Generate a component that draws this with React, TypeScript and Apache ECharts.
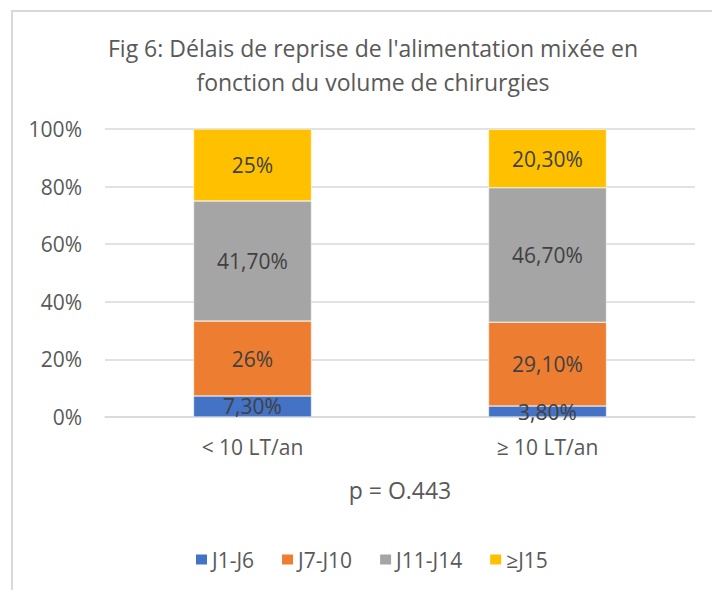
import React, { useEffect, useRef } from "react";
import * as echarts from "echarts";

const categories = ["< 10 LT/an", "≥ 10 LT/an"];
const seriesNames = ["J1-J6", "J7-J10", "J11-J14", "≥J15"];
const j1j6 = [7.3, 3.8];
const j7j10 = [26, 29.1];
const j11j14 = [41.7, 46.7];
const j15 = [25, 20.3];
const yTicks = [0, 20, 40, 60, 80, 100];
const colors = ["#4472C4", "#ED7D31", "#A5A5A5", "#FFC000"];
const titleText = "Fig 6: Délais de reprise de l'alimentation mixée en\nfonction du volume de chirurgies";
const pValueText = "p = O.443";

const FONT = "'Open Sans', 'Noto Sans', sans-serif";

function fmt(v: number): string {
  if (Number.isInteger(v)) return v + "%";
  return v.toFixed(2).replace(".", ",") + "%";
}

export default function App() {
  const ref = useRef<HTMLDivElement>(null);
  useEffect(() => {
    if (!ref.current) return;
    const chart = echarts.init(ref.current, undefined, { renderer: "svg" });
    const values = [j1j6, j7j10, j11j14, j15];
    chart.setOption({
      animation: false,
      backgroundColor: "#ffffff",
      textStyle: { fontFamily: FONT },
      title: {
        text: titleText,
        left: 368,
        textAlign: "center",
        top: 26,
        textStyle: {
          fontFamily: FONT,
          fontSize: 23,
          fontWeight: "normal",
          color: "#595959",
          lineHeight: 34,
        },
      },
      legend: {
        data: seriesNames,
        left: 189,
        top: 544,
        icon: "rect",
        itemWidth: 13,
        itemHeight: 12,
        itemGap: 26,
        textStyle: { fontFamily: FONT, fontSize: 21, color: "#595959", padding: [0, 0, 0, -1] },
      },
      grid: { left: 105, right: 17, top: 129, bottom: 173, containLabel: false },
      xAxis: {
        type: "category",
        data: categories,
        axisLine: { lineStyle: { color: "#d9d9d9", width: 1.5 } },
        axisTick: { show: false },
        axisLabel: { fontFamily: FONT, fontSize: 21, color: "#595959", margin: 19 },
      },
      yAxis: {
        type: "value",
        min: yTicks[0],
        max: yTicks[yTicks.length - 1],
        interval: 20,
        axisLine: { show: false },
        axisTick: { show: false },
        splitLine: { lineStyle: { color: "#d9d9d9", width: 1.5 } },
        axisLabel: {
          fontFamily: FONT,
          fontSize: 21,
          color: "#595959",
          margin: 23,
          formatter: (v: number) => v + "%",
        },
      },
      series: seriesNames.map((name, i) => ({
        name,
        type: "bar",
        stack: "total",
        barWidth: "40%",
        data: values[i],
        itemStyle: { color: colors[i], borderColor: "#ffffff", borderWidth: 0.5 },
        label: {
          show: true,
          position: "inside",
          fontFamily: FONT,
          fontSize: 21,
          color: "#404040",
          formatter: (p: any) => fmt(p.value),
        },
      })),
      graphic: [
        {
          type: "rect",
          shape: { x: 12, y: 11, width: 900, height: 800 },
          style: { fill: "none", stroke: "#d9d9d9", lineWidth: 2 },
          silent: true,
        },
        {
          type: "text",
          x: 400,
          y: 490,
          style: {
            text: pValueText,
            fontFamily: FONT,
            fontSize: 23,
            fill: "#595959",
            textAlign: "center",
            textVerticalAlign: "middle",
          },
        },
      ],
    });
    return () => chart.dispose();
  }, []);
  return (
    <div
      ref={ref}
      style={{ position: "fixed", left: 0, top: 0, width: 712, height: 590 }}
    />
  );
}
